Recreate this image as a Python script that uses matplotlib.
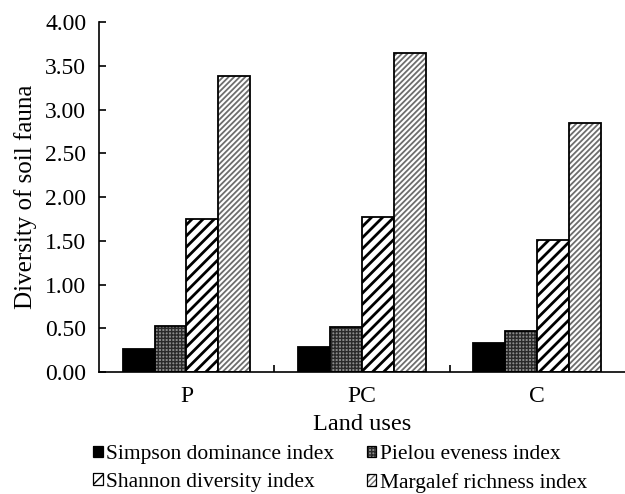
import matplotlib
matplotlib.use("Agg")
import matplotlib.pyplot as plt
from matplotlib.patches import Patch
from matplotlib.legend_handler import HandlerTuple
from matplotlib.ticker import FormatStrFormatter
import numpy as np

plt.rcParams['font.family'] = ['Liberation Serif', 'DejaVu Serif']

land_uses = ['P', 'PC', 'C']
simpson = [0.26, 0.285, 0.335]
pielou = [0.53, 0.51, 0.47]
shannon = [1.745, 1.77, 1.51]
margalef = [3.38, 3.65, 2.85]

series = [
    ('Simpson dominance index', simpson),
    ('Pielou eveness index', pielou),
    ('Shannon diversity index', shannon),
    ('Margalef richness index', margalef),
]
# face, hatch, hatch colour, hatch width
styles = [
    ('black', '', 'black', 1.0),
    ('#8c8c8c', '+++++', '#2a2a2a', 1.0),
    ('white', '///', 'black', 2.0),
    ('white', '//////', '#6e6e6e', 1.3),
]

fig = plt.figure(figsize=(6.25, 4.94), dpi=100)
ax = fig.add_axes([0.158, 0.247, 0.842, 0.708])

x = np.arange(len(land_uses))
w = 0.182
handles = []
labels = []
for i, ((name, vals), (fc, hatch, hc, hlw)) in enumerate(zip(series, styles)):
    pos = x + (i - 1.5) * w
    with plt.rc_context({'hatch.linewidth': hlw}):
        bars = ax.bar(pos, vals, w, color=fc, hatch=hatch, edgecolor=hc, linewidth=0)
        for b in bars:
            if hasattr(b, 'set_hatch_linewidth'):
                b.set_hatch_linewidth(hlw)
        h = Patch(facecolor=fc, hatch=hatch, edgecolor=hc, linewidth=0)
        if hasattr(h, 'set_hatch_linewidth'):
            h.set_hatch_linewidth(hlw)
    ax.bar(pos, vals, w, fill=False, edgecolor='black', linewidth=1.3)
    outline = Patch(fill=False, edgecolor='black', linewidth=0.9)
    handles.append((h, outline))
    labels.append(name)

ax.set_xlim(-0.5, 2.5)
ax.set_ylim(0, 4.0)
ax.set_yticks(np.arange(0, 4.01, 0.5))
ax.yaxis.set_major_formatter(FormatStrFormatter('%.2f'))
ax.set_xticks(x)
ax.set_xticklabels(land_uses)
ax.set_xticks([0.5, 1.5], minor=True)
ax.tick_params(axis='x', which='major', length=0, labelsize=17, pad=10)
ax.tick_params(axis='x', which='minor', direction='in', length=5, width=1.2)
ax.tick_params(axis='y', direction='in', length=5, width=1.2, labelsize=17, pad=9)
for s in ['top', 'right']:
    ax.spines[s].set_visible(False)
for s in ['left', 'bottom']:
    ax.spines[s].set_linewidth(1.2)

ax.set_ylabel('Diversity of soil fauna', fontsize=18, labelpad=6)
ax.set_xlabel('Land uses', fontsize=17.5, labelpad=5)

idx = [0, 2, 1, 3]
fig.legend([handles[k] for k in idx], [labels[k] for k in idx],
           handler_map={tuple: HandlerTuple(ndivide=1, pad=0)},
           loc='upper left', bbox_to_anchor=(0.132, 0.121), ncol=2,
           frameon=False, fontsize=15.5, handlelength=0.45, handleheight=0.45,
           handletextpad=0.15, columnspacing=1.5, labelspacing=0.4, borderpad=0)

fig.savefig('out.png', dpi=100)
